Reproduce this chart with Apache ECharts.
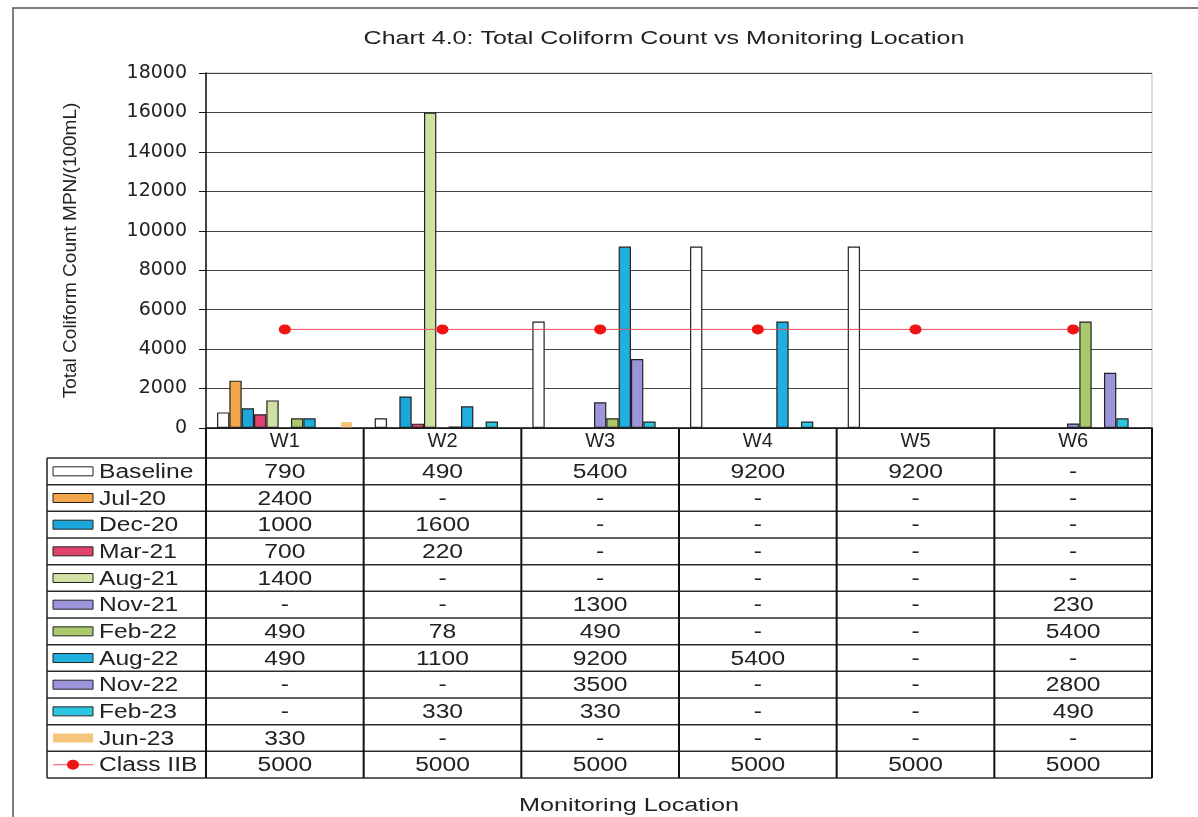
<!DOCTYPE html>
<html><head><meta charset="utf-8">
<script src="https://cdn.jsdelivr.net/npm/echarts@6/dist/echarts.min.js"></script>
<style>html,body{margin:0;padding:0;background:#fff}#c{width:1198px;height:817px}</style>
</head><body><div id="c"></div>
<script>
// ---------- data ----------
const categories = ['W1', 'W2', 'W3', 'W4', 'W5', 'W6'];
const baseline = [790, 490, 5400, 9200, 9200, null];
const jul20    = [2400, null, null, null, null, null];
const dec20    = [1000, 1600, null, null, null, null];
const mar21    = [700, 220, null, null, null, null];
const aug21    = [1400, 16000, null, null, null, null];
const nov21    = [null, null, 1300, null, null, 230];
const feb22    = [490, 78, 490, null, null, 5400];
const aug22    = [490, 1100, 9200, 5400, null, null];
const nov22    = [null, null, 3500, null, null, 2800];
const feb23    = [null, 330, 330, 330, null, 490];
const jun23    = [330, null, null, null, null, null];
const classIIB = [5000, 5000, 5000, 5000, 5000, 5000];
const seriesNames = ['Baseline', 'Jul-20', 'Dec-20', 'Mar-21', 'Aug-21', 'Nov-21', 'Feb-22', 'Aug-22', 'Nov-22', 'Feb-23', 'Jun-23'];
const lineName = 'Class IIB';
// cells that are plotted but printed as "-" in the source data table
const tableNotPrinted = { 'Aug-21': [1], 'Feb-23': [3] };
const yMin = 0, yMax = 18000, yStep = 2000;
const titleText = 'Chart 4.0: Total Coliform Count vs Monitoring Location';
const yAxisTitle = 'Total Coliform Count MPN/(100mL)';
const xAxisTitle = 'Monitoring Location';

// ---------- styles / layout ----------
const barValues = [baseline, jul20, dec20, mar21, aug21, nov21, feb22, aug22, nov22, feb23, jun23];
const barColors = ['#ffffff', '#f1a64c', '#1ca7dc', '#e0426e', '#cfe2a4', '#9d95dc', '#a9c96c', '#1fb0e0', '#9d95dc', '#2cc6e2', '#f5c57c'];
const barBorders = ['#222', '#222', '#222', '#222', '#222', '#222', '#222', '#222', '#222', '#222', 'transparent'];
const G = { left: 206, right: 1152, top: 73, bottom: 428 };
const T = { legendLeft: 47, headerBottom: 458, rowH: 26.67 };
const txt = '#222';
const FONT = '"Liberation Sans", Arial, sans-serif';

const series = barValues.map((vals, i) => ({
  name: seriesNames[i], type: 'bar', data: vals,
  barGap: '0%', barCategoryGap: '14%',
  itemStyle: { color: barColors[i], borderColor: barBorders[i], borderWidth: 1.2 },
  silent: true, animation: false
}));
series.push({
  name: lineName, type: 'line', data: classIIB,
  symbol: 'circle', symbolSize: [12, 10],
  lineStyle: { color: '#ec4a5c', width: 1 },
  itemStyle: { color: '#ee1414' },
  silent: true, animation: false, z: 5
});

// ---------- table (graphic) ----------
const gfx = [];
const nCat = categories.length;
const cw = (G.right - G.left) / nCat;
const nRows = seriesNames.length + 1;
const tableBottom = T.headerBottom + nRows * T.rowH;
function line(x1, y1, x2, y2, stroke, w) {
  gfx.push({ type: 'line', silent: true, shape: { x1, y1, x2, y2 }, style: { stroke: stroke || '#222', lineWidth: w || 1.5 } });
}
function text(str, x, y, size, sx, align, fill) {
  gfx.push({ type: 'text', silent: true, x, y, scaleX: sx,
    style: { text: str, x: 0, y: 0, fontSize: size, fontFamily: FONT, fill: fill || txt, align: align || 'center', verticalAlign: 'middle' } });
}
// outer frame
gfx.push({ type: 'polyline', silent: true, shape: { points: [[13, 817], [13, 8], [1198, 8]] }, style: { stroke: '#555', lineWidth: 1.5, fill: null } });
// plot area border (light)
gfx.push({ type: 'rect', silent: true, shape: { x: G.left, y: G.top, width: G.right - G.left, height: G.bottom - G.top }, style: { fill: null, stroke: '#bbb', lineWidth: 1 }, z: -1 });
// horizontal rules
for (let k = 0; k <= nRows; k++) {
  const y = T.headerBottom + k * T.rowH;
  line(T.legendLeft, y, G.right, y, '#2a2a2a', 1.5);
}
// vertical rules
line(T.legendLeft, T.headerBottom, T.legendLeft, tableBottom, '#222', 1.5);
for (let j = 0; j <= nCat; j++) {
  const x = G.left + j * cw;
  line(x, G.bottom, x, tableBottom, '#111', 2);
}
// rows
const allNames = seriesNames.concat([lineName]);
const allVals = barValues.concat([classIIB]);
allNames.forEach((nm, r) => {
  const yc = T.headerBottom + (r + 0.5) * T.rowH;
  if (r < seriesNames.length) {
    gfx.push({ type: 'rect', silent: true, shape: { x: 53, y: yc - 4.5, width: 40, height: 9 },
      style: { fill: barColors[r], stroke: barBorders[r] === 'transparent' ? null : '#222', lineWidth: 1 } });
  } else {
    line(53, yc, 93, yc, '#ec4a5c', 1);
    gfx.push({ type: 'circle', silent: true, x: 73, y: yc, scaleX: 1.2, shape: { cx: 0, cy: 0, r: 5 }, style: { fill: '#ee1414' } });
  }
  text(nm, 99, yc + 1, 20, 1.23, 'left');
  allVals[r].forEach((v, j) => {
    const hidden = (tableNotPrinted[nm] || []).indexOf(j) >= 0;
    const s = (v === null || hidden) ? '-' : String(v);
    text(s, G.left + (j + 0.5) * cw, yc + 1, 20, 1.23, 'center');
  });
});
// titles
text(titleText, 664, 39, 18, 1.39, 'center');
text(xAxisTitle, 629, 806, 18, 1.4, 'center');

const option = {
  backgroundColor: '#fff',
  animation: false,
  grid: { left: G.left, top: G.top, width: G.right - G.left, height: G.bottom - G.top, containLabel: false, outerBoundsMode: 'none' },
  xAxis: {
    type: 'category', data: categories,
    axisLine: { show: true, lineStyle: { color: '#111', width: 1.5 } },
    axisTick: { show: false },
    axisLabel: { margin: 3, fontSize: 20, fontFamily: FONT, color: txt, interval: 0 },
    splitLine: { show: false }
  },
  yAxis: {
    type: 'value', min: yMin, max: yMax, interval: yStep,
    name: yAxisTitle, nameLocation: 'middle', nameRotate: 90, nameGap: 126,
    nameTextStyle: { fontSize: 19, fontFamily: FONT, color: txt },
    axisLine: { show: true, lineStyle: { color: '#111', width: 1.5 } },
    axisTick: { show: true, inside: false, length: 7, lineStyle: { color: '#111' } },
    axisLabel: { margin: 19, fontSize: 19, fontFamily: '"DejaVu Sans", sans-serif', color: txt, formatter: v => String(v) },
    splitLine: { show: true, lineStyle: { color: '#444', width: 1 } }
  },
  series: series,
  graphic: { elements: gfx }
};
const chart = echarts.init(document.getElementById('c'), null, { renderer: 'canvas' });
chart.setOption(option);
</script>
</body></html>
